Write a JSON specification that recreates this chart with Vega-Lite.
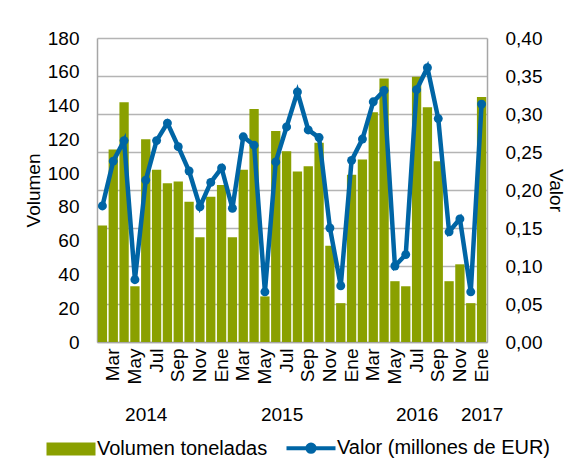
{
  "$schema": "https://vega.github.io/schema/vega-lite/v6.json",
  "width": 390,
  "height": 304,
  "autosize": {"type": "none"},
  "padding": {"left": 97, "top": 38, "right": 84, "bottom": 123},
  "background": "white",
  "config": {
    "font": "Liberation Sans",
    "view": {"stroke": null},
    "axis": {
      "labelFont": "Liberation Sans",
      "titleFont": "Liberation Sans",
      "labelFontSize": 19,
      "titleFontSize": 19,
      "titleFontWeight": "normal",
      "labelColor": "#000000",
      "titleColor": "#000000"
    },
    "legend": {"labelFont": "Liberation Sans", "labelFontSize": 20, "labelColor": "#000000", "labelLimit": 0}
  },
  "data": {
    "values": [
      {"t": "2014-02", "volumen": 69, "valor": 0.179},
      {"t": "2014-03", "volumen": 114, "valor": 0.238},
      {"t": "2014-04", "volumen": 142, "valor": 0.265},
      {"t": "2014-05", "volumen": 33, "valor": 0.082},
      {"t": "2014-06", "volumen": 120, "valor": 0.213},
      {"t": "2014-07", "volumen": 102, "valor": 0.265},
      {"t": "2014-08", "volumen": 94, "valor": 0.288},
      {"t": "2014-09", "volumen": 95, "valor": 0.257},
      {"t": "2014-10", "volumen": 83, "valor": 0.225},
      {"t": "2014-11", "volumen": 62, "valor": 0.178},
      {"t": "2014-12", "volumen": 86, "valor": 0.210},
      {"t": "2015-01", "volumen": 93, "valor": 0.229},
      {"t": "2015-02", "volumen": 62, "valor": 0.176},
      {"t": "2015-03", "volumen": 102, "valor": 0.270},
      {"t": "2015-04", "volumen": 138, "valor": 0.259},
      {"t": "2015-05", "volumen": 27, "valor": 0.066},
      {"t": "2015-06", "volumen": 125, "valor": 0.237},
      {"t": "2015-07", "volumen": 113, "valor": 0.283},
      {"t": "2015-08", "volumen": 101, "valor": 0.329},
      {"t": "2015-09", "volumen": 104, "valor": 0.279},
      {"t": "2015-10", "volumen": 118, "valor": 0.269},
      {"t": "2015-11", "volumen": 57, "valor": 0.150},
      {"t": "2015-12", "volumen": 23, "valor": 0.074},
      {"t": "2016-01", "volumen": 99, "valor": 0.239},
      {"t": "2016-02", "volumen": 108, "valor": 0.267},
      {"t": "2016-03", "volumen": 136, "valor": 0.316},
      {"t": "2016-04", "volumen": 156, "valor": 0.331},
      {"t": "2016-05", "volumen": 36, "valor": 0.100},
      {"t": "2016-06", "volumen": 33, "valor": 0.115},
      {"t": "2016-07", "volumen": 157, "valor": 0.332},
      {"t": "2016-08", "volumen": 139, "valor": 0.361},
      {"t": "2016-09", "volumen": 107, "valor": 0.294},
      {"t": "2016-10", "volumen": 36, "valor": 0.145},
      {"t": "2016-11", "volumen": 46, "valor": 0.162},
      {"t": "2016-12", "volumen": 23, "valor": 0.066},
      {"t": "2017-01", "volumen": 145, "valor": 0.313}
    ]
  },
  "layer": [
    {
      "layer": [
        {
          "mark": {"type": "bar"},
          "encoding": {
            "x": {
              "field": "t",
              "type": "ordinal",
              "sort": null,
              "scale": {"paddingInner": 0.14, "paddingOuter": 0.07},
              "axis": {
                "title": null,
                "labelAngle": -90,
                "labelAlign": "right",
                "labelBaseline": "middle",
                "labelPadding": 6,
                "labelOverlap": false,
                "ticks": false,
                "domainColor": "#A6A6A6",
                "domainWidth": 1.5,
                "labelExpr": "toNumber(slice(datum.value, 5)) % 2 == 1 ? substring('EneFebMarAbrMayJunJulAgoSepOctNovDic', (toNumber(slice(datum.value, 5)) - 1) * 3, toNumber(slice(datum.value, 5)) * 3) : ''"
              }
            },
            "y": {
              "field": "volumen",
              "type": "quantitative",
              "scale": {"domain": [0, 180], "nice": false, "zero": true},
              "axis": {
                "title": "Volumen",
                "values": [0, 20, 40, 60, 80, 100, 120, 140, 160, 180],
                "grid": false,
                "ticks": false,
                "domainColor": "#A6A6A6",
                "domainWidth": 1.5,
                "labelPadding": 18,
                "titlePadding": 4
              }
            },
            "color": {
              "datum": "Volumen toneladas",
              "type": "nominal",
              "scale": {
                "domain": ["Volumen toneladas", "Valor (millones de EUR)"],
                "range": ["#8AA000", "#0065A5"]
              },
              "legend": {
                "title": null,
                "orient": "none",
                "legendX": -36,
                "legendY": 400,
                "direction": "horizontal",
                "columns": 2,
                "columnPadding": 10,
                "labelOffset": 16,
                "labelLimit": 0,
                "symbolSize": 2401,
                "encode": {
                  "symbols": {
                    "update": {
                      "shape": {"signal": "datum.value === 'Volumen toneladas' ? 'M-1,-0.27H1V0.27H-1Z' : 'M-1,0H1M0.15,0A0.15,0.15 0 1,1 -0.15,0A0.15,0.15 0 1,1 0.15,0Z'"},
                      "fill": {"signal": "datum.value === 'Volumen toneladas' ? '#8AA000' : '#0065A5'"},
                      "stroke": {"signal": "datum.value === 'Volumen toneladas' ? 'transparent' : '#0065A5'"},
                      "strokeWidth": {"signal": "datum.value === 'Volumen toneladas' ? 0 : 4"},
                      "size": {"value": 2401},
                      "opacity": {"value": 1}
                    }
                  }
                }
              }
            }
          }
        },
        {
          "mark": {"type": "line", "strokeWidth": 4.5, "point": {"filled": true, "size": 80, "opacity": 1}},
          "encoding": {
            "x": {"field": "t", "type": "ordinal", "sort": null},
            "y": {
              "field": "valor",
              "type": "quantitative",
              "scale": {"domain": [0, 0.4], "nice": false, "zero": true},
              "axis": {
                "orient": "right",
                "title": "Valor",
                "values": [0, 0.05, 0.1, 0.15, 0.2, 0.25, 0.3, 0.35, 0.4],
                "grid": true,
                "gridColor": "#B4B4B4",
                "gridWidth": 1.5,
                "ticks": false,
                "domainColor": "#A6A6A6",
                "domainWidth": 1.5,
                "labelPadding": 18,
                "titlePadding": 4,
                "labelExpr": "replace(format(datum.value, '.2f'), '.', ',')"
              }
            },
            "color": {"datum": "Valor (millones de EUR)", "type": "nominal"}
          }
        }
      ],
      "resolve": {"scale": {"y": "independent"}}
    },
    {
      "mark": {"type": "point", "opacity": 0},
      "encoding": {
        "x": {
          "field": "t",
          "type": "ordinal",
          "sort": null,
          "axis": {
            "orient": "bottom",
            "title": null,
            "domain": false,
            "ticks": false,
            "grid": false,
            "labelAngle": 0,
            "labelAlign": "center",
            "labelBaseline": "top",
            "labelPadding": 63,
            "labelOverlap": false,
            "labelBound": false,
            "labelOffset": {"condition": {"test": "datum.value == '2015-07'", "value": -5}, "value": 0},
            "labelExpr": "datum.value == '2014-06' ? '2014' : datum.value == '2015-07' ? '2015' : datum.value == '2016-07' ? '2016' : datum.value == '2017-01' ? '2017' : ''"
          }
        }
      }
    }
  ],
  "resolve": {"scale": {"x": "independent"}}
}
